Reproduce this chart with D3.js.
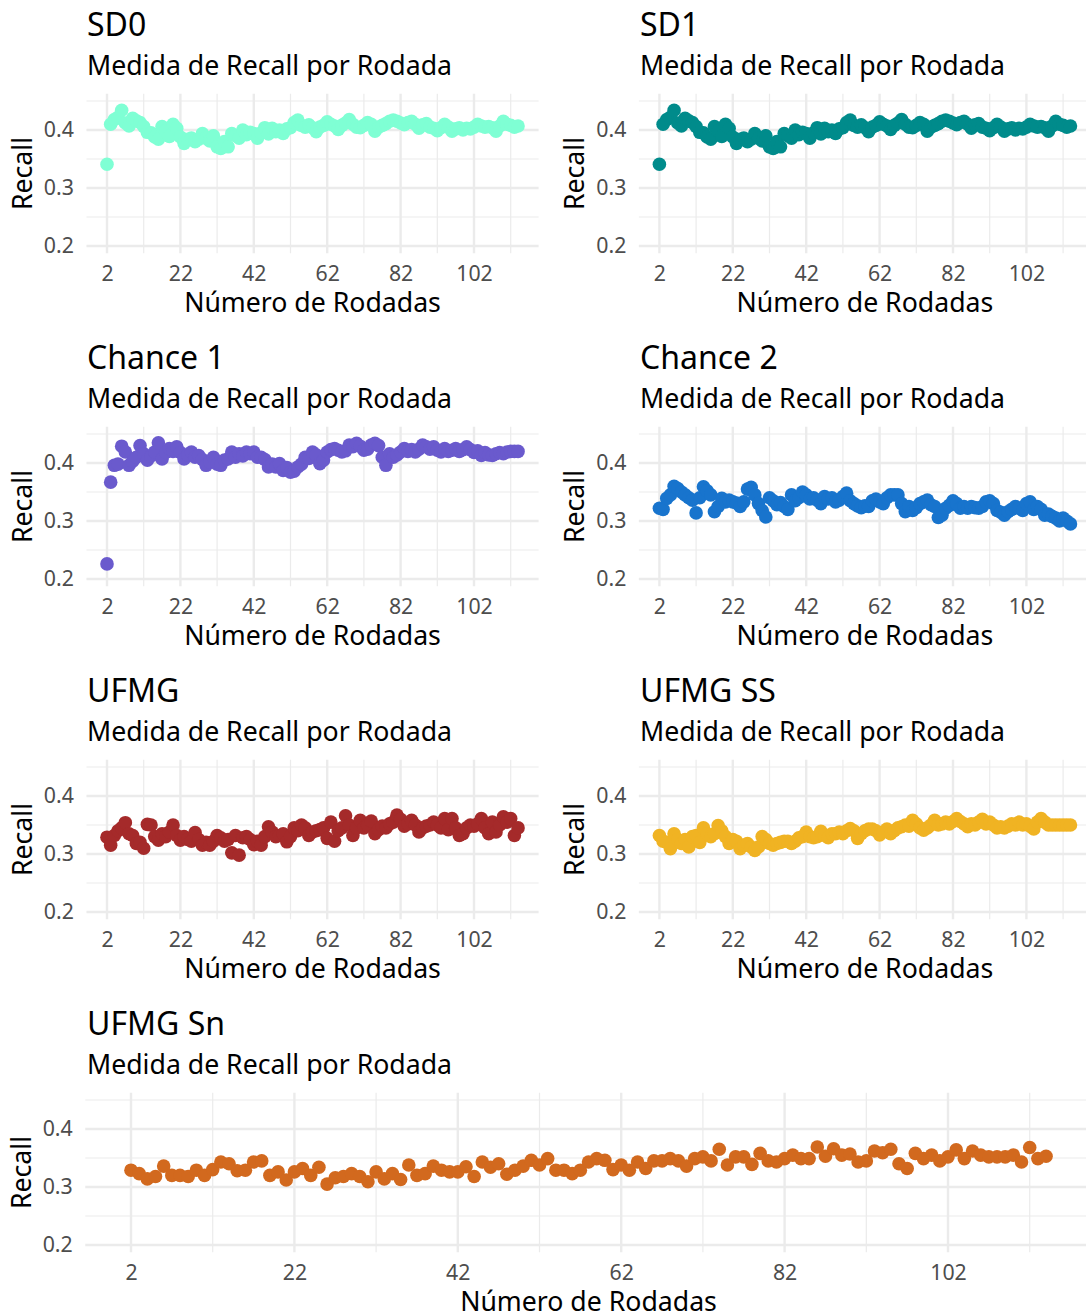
<!DOCTYPE html>
<html>
<head>
<meta charset="utf-8">
<script src="https://cdn.jsdelivr.net/npm/d3@7"></script>
<style>
  body { margin: 0; background: #ffffff; }
  svg { display: block; overflow: hidden; }
  text { font-family: "Noto Sans", "Open Sans", sans-serif; }
</style>
</head>
<body>
<svg id="chart" width="1086" height="1316"></svg>
<script>
// Rounds 2..114
const rounds = d3.range(2, 115);

const recallSD0 = [
  0.341, 0.410, 0.418, 0.422, 0.434, 0.412, 0.407, 0.420, 0.416, 0.413,
  0.406, 0.396, 0.395, 0.388, 0.384, 0.406, 0.398, 0.389, 0.410, 0.403,
  0.388, 0.377, 0.384, 0.386, 0.380, 0.384, 0.394, 0.386, 0.381, 0.390,
  0.371, 0.368, 0.380, 0.371, 0.394, 0.390, 0.386, 0.400, 0.392, 0.396,
  0.394, 0.386, 0.395, 0.404, 0.393, 0.403, 0.397, 0.400, 0.394, 0.402,
  0.404, 0.413, 0.417, 0.408, 0.405, 0.409, 0.404, 0.397, 0.405, 0.408,
  0.414, 0.410, 0.407, 0.401, 0.408, 0.412, 0.418, 0.410, 0.405, 0.404,
  0.408, 0.413, 0.410, 0.398, 0.405, 0.408, 0.411, 0.415, 0.417, 0.415,
  0.412, 0.409, 0.413, 0.415, 0.410, 0.403, 0.409, 0.411, 0.405, 0.403,
  0.399, 0.404, 0.410, 0.405, 0.398, 0.402, 0.404, 0.400, 0.403, 0.402,
  0.405, 0.410, 0.407, 0.405, 0.406, 0.404, 0.398, 0.407, 0.415, 0.410,
  0.408, 0.405, 0.407
];

const recallSD1 = [
  0.341, 0.410, 0.418, 0.422, 0.434, 0.412, 0.407, 0.420, 0.416, 0.413,
  0.406, 0.396, 0.395, 0.388, 0.384, 0.406, 0.398, 0.389, 0.410, 0.403,
  0.388, 0.377, 0.384, 0.386, 0.380, 0.384, 0.394, 0.386, 0.381, 0.390,
  0.371, 0.368, 0.380, 0.371, 0.394, 0.390, 0.386, 0.400, 0.392, 0.396,
  0.394, 0.386, 0.395, 0.404, 0.393, 0.403, 0.397, 0.400, 0.394, 0.402,
  0.404, 0.413, 0.417, 0.408, 0.405, 0.409, 0.404, 0.397, 0.405, 0.408,
  0.414, 0.410, 0.407, 0.401, 0.408, 0.412, 0.418, 0.410, 0.405, 0.404,
  0.408, 0.413, 0.410, 0.398, 0.405, 0.408, 0.411, 0.415, 0.417, 0.415,
  0.412, 0.409, 0.413, 0.415, 0.410, 0.403, 0.409, 0.411, 0.405, 0.403,
  0.399, 0.404, 0.410, 0.405, 0.398, 0.402, 0.404, 0.400, 0.403, 0.402,
  0.405, 0.410, 0.407, 0.405, 0.406, 0.404, 0.398, 0.407, 0.415, 0.410,
  0.408, 0.405, 0.407
];

const recallChance1 = [
  0.226, 0.367, 0.396, 0.398, 0.429, 0.419, 0.396, 0.403, 0.410, 0.430,
  0.416, 0.405, 0.412, 0.419, 0.435, 0.407, 0.418, 0.425, 0.420, 0.428,
  0.418, 0.407, 0.414, 0.419, 0.410, 0.413, 0.406, 0.396, 0.402, 0.410,
  0.398, 0.396, 0.405, 0.407, 0.419, 0.410, 0.416, 0.412, 0.419, 0.416,
  0.419, 0.410, 0.410, 0.406, 0.393, 0.398, 0.393, 0.399, 0.387, 0.392,
  0.384, 0.386, 0.393, 0.398, 0.410, 0.408, 0.419, 0.414, 0.399, 0.405,
  0.419, 0.423, 0.425, 0.422, 0.419, 0.421, 0.431, 0.428, 0.434, 0.429,
  0.422, 0.424, 0.431, 0.434, 0.430, 0.410, 0.396, 0.416, 0.410, 0.414,
  0.419, 0.425, 0.420, 0.423, 0.419, 0.424, 0.431, 0.428, 0.424, 0.428,
  0.422, 0.419, 0.425, 0.420, 0.422, 0.425, 0.420, 0.423, 0.428, 0.423,
  0.418, 0.421, 0.413, 0.418, 0.414, 0.413, 0.416, 0.418, 0.416, 0.419,
  0.420, 0.420, 0.420
];

const recallChance2 = [
  0.322, 0.320, 0.339, 0.345, 0.360, 0.356, 0.350, 0.345, 0.340, 0.336,
  0.314, 0.340, 0.359, 0.352, 0.345, 0.316, 0.325, 0.339, 0.333, 0.336,
  0.333, 0.331, 0.325, 0.333, 0.355, 0.358, 0.345, 0.330, 0.318, 0.307,
  0.340, 0.335, 0.328, 0.332, 0.325, 0.320, 0.345, 0.335, 0.340, 0.350,
  0.345, 0.338, 0.340, 0.336, 0.330, 0.342, 0.338, 0.340, 0.333, 0.336,
  0.342, 0.348, 0.335, 0.330, 0.326, 0.323, 0.326, 0.325, 0.335, 0.338,
  0.333, 0.330, 0.340, 0.345, 0.345, 0.345, 0.330, 0.316, 0.325, 0.318,
  0.323, 0.330, 0.333, 0.336, 0.328, 0.325, 0.306, 0.310, 0.322, 0.327,
  0.335, 0.330, 0.322, 0.325, 0.322, 0.325, 0.323, 0.322, 0.325, 0.333,
  0.335, 0.330, 0.318, 0.315, 0.310, 0.316, 0.320, 0.325, 0.322, 0.318,
  0.330, 0.333, 0.320, 0.325, 0.320, 0.310, 0.312, 0.308, 0.305, 0.300,
  0.305, 0.300, 0.295
];

const recallUFMG = [
  0.329, 0.315, 0.332, 0.340, 0.345, 0.354, 0.335, 0.332, 0.318, 0.320,
  0.310, 0.351, 0.350, 0.330, 0.324, 0.335, 0.330, 0.338, 0.350, 0.332,
  0.324, 0.330, 0.325, 0.322, 0.337, 0.325, 0.315, 0.320, 0.315, 0.322,
  0.332, 0.328, 0.322, 0.325, 0.302, 0.332, 0.298, 0.328, 0.330, 0.325,
  0.316, 0.322, 0.315, 0.330, 0.347, 0.338, 0.330, 0.332, 0.335, 0.321,
  0.330, 0.345, 0.340, 0.350, 0.345, 0.332, 0.338, 0.340, 0.342, 0.345,
  0.327, 0.355, 0.322, 0.340, 0.345, 0.366, 0.350, 0.332, 0.345, 0.358,
  0.345, 0.350, 0.357, 0.335, 0.342, 0.348, 0.345, 0.352, 0.355, 0.367,
  0.360, 0.348, 0.352, 0.358, 0.350, 0.338, 0.345, 0.348, 0.350, 0.355,
  0.350, 0.345, 0.361, 0.342, 0.361, 0.345, 0.332, 0.335, 0.345, 0.350,
  0.348, 0.352, 0.361, 0.345, 0.335, 0.355, 0.338, 0.350, 0.364, 0.355,
  0.361, 0.332, 0.345
];

const recallUFMGSS = [
  0.332, 0.322, 0.320, 0.309, 0.335, 0.325, 0.318, 0.325, 0.312, 0.330,
  0.332, 0.320, 0.345, 0.335, 0.330, 0.335, 0.349, 0.340, 0.330, 0.318,
  0.325, 0.322, 0.309, 0.315, 0.318, 0.312, 0.306, 0.312, 0.330, 0.325,
  0.318, 0.315, 0.318, 0.320, 0.322, 0.322, 0.318, 0.322, 0.328, 0.330,
  0.338, 0.330, 0.328, 0.330, 0.339, 0.332, 0.328, 0.335, 0.335, 0.338,
  0.335, 0.340, 0.344, 0.340, 0.327, 0.335, 0.340, 0.343, 0.343, 0.340,
  0.333, 0.338, 0.343, 0.335, 0.340, 0.345, 0.347, 0.350, 0.348, 0.358,
  0.352, 0.345, 0.341, 0.345, 0.350, 0.358, 0.350, 0.352, 0.355, 0.352,
  0.356, 0.361, 0.356, 0.352, 0.347, 0.352, 0.350, 0.355, 0.360, 0.352,
  0.355, 0.350, 0.345, 0.347, 0.345, 0.348, 0.352, 0.350, 0.355, 0.350,
  0.352, 0.348, 0.343, 0.355, 0.361, 0.355, 0.350, 0.350, 0.350, 0.350,
  0.350, 0.350, 0.350
];

const recallUFMGSn = [
  0.329, 0.323, 0.314, 0.318, 0.336, 0.320, 0.320, 0.318, 0.329, 0.320,
  0.330, 0.343, 0.340, 0.328, 0.329, 0.343, 0.345, 0.320, 0.326, 0.312,
  0.326, 0.332, 0.320, 0.334, 0.305, 0.316, 0.318, 0.323, 0.318, 0.309,
  0.326, 0.314, 0.323, 0.313, 0.338, 0.320, 0.323, 0.336, 0.329, 0.326,
  0.326, 0.335, 0.318, 0.343, 0.334, 0.340, 0.322, 0.329, 0.336, 0.346,
  0.338, 0.349, 0.329, 0.329, 0.323, 0.329, 0.343, 0.349, 0.346, 0.330,
  0.338, 0.329, 0.343, 0.332, 0.345, 0.345, 0.349, 0.345, 0.336, 0.349,
  0.352, 0.345, 0.365, 0.338, 0.352, 0.352, 0.339, 0.358, 0.345, 0.343,
  0.349, 0.355, 0.349, 0.349, 0.369, 0.353, 0.366, 0.355, 0.357, 0.343,
  0.345, 0.362, 0.359, 0.365, 0.340, 0.332, 0.358, 0.349, 0.355, 0.345,
  0.352, 0.364, 0.349, 0.362, 0.355, 0.352, 0.352, 0.352, 0.355, 0.343,
  0.368, 0.349, 0.353
];

const panelTitles = ["SD0", "SD1", "Chance 1", "Chance 2", "UFMG", "UFMG SS", "UFMG Sn"];
const panelSeries = [recallSD0, recallSD1, recallChance1, recallChance2, recallUFMG, recallUFMGSS, recallUFMGSn];
const panelColors = ["#7FFFD4", "#008B8B", "#6A5ACD", "#1874CD", "#A52A2A", "#F0B323", "#D2691E"];

const subtitle = "Medida de Recall por Rodada";
const xLabel = "Número de Rodadas";
const yLabel = "Recall";

const xTicks = [2, 22, 42, 62, 82, 102];
const xMinor = [12, 32, 52, 72, 92, 112];
const yTicks = [0.2, 0.3, 0.4];
const yMinor = [0.25, 0.35, 0.45];
const yLimits = [0.2, 0.45];

// Layout of the 4x2 grid (last panel spans both columns)
const rowStep = 333;
const panelTop0 = 93.75, panelBottom0 = 253.25;
const cols = [
  { x0: 86.45, x1: 538.6, textX: 87 },
  { x0: 638.85, x1: 1091, textX: 640 },
  { x0: 85.25, x1: 1091.8, textX: 87 }
];

const svg = d3.select("#chart");
const font = '"Noto Sans", "Open Sans", sans-serif';
const gridColor = "#EBEBEB";

panelTitles.forEach((title, i) => {
  const row = Math.floor(i / 2);
  const col = i === 6 ? cols[2] : cols[i % 2];
  const top = panelTop0 + row * rowStep;
  const bottom = panelBottom0 + row * rowStep;
  const values = panelSeries[i];

  const xExt = d3.extent(rounds);
  const xPad = (xExt[1] - xExt[0]) * 0.05;
  const yPad = (yLimits[1] - yLimits[0]) * 0.05;
  const x = d3.scaleLinear().domain([xExt[0] - xPad, xExt[1] + xPad]).range([col.x0, col.x1]);
  const y = d3.scaleLinear().domain([yLimits[0] - yPad, yLimits[1] + yPad]).range([bottom, top]);

  const g = svg.append("g");

  // minor grid
  g.selectAll("line.xminor").data(xMinor).join("line")
    .attr("x1", d => x(d)).attr("x2", d => x(d)).attr("y1", top).attr("y2", bottom)
    .attr("stroke", gridColor).attr("stroke-width", 1.2);
  g.selectAll("line.yminor").data(yMinor).join("line")
    .attr("x1", col.x0).attr("x2", col.x1).attr("y1", d => y(d)).attr("y2", d => y(d))
    .attr("stroke", gridColor).attr("stroke-width", 1.2);
  // major grid
  g.selectAll("line.xmajor").data(xTicks).join("line")
    .attr("x1", d => x(d)).attr("x2", d => x(d)).attr("y1", top).attr("y2", bottom)
    .attr("stroke", gridColor).attr("stroke-width", 2.4);
  g.selectAll("line.ymajor").data(yTicks).join("line")
    .attr("x1", col.x0).attr("x2", col.x1).attr("y1", d => y(d)).attr("y2", d => y(d))
    .attr("stroke", gridColor).attr("stroke-width", 2.4);

  // points
  g.selectAll("circle").data(rounds.map((r, k) => [r, values[k]])).join("circle")
    .attr("cx", d => x(d[0])).attr("cy", d => y(d[1])).attr("r", 6.8)
    .attr("fill", panelColors[i]);

  // axes
  const xAxis = g.append("g").attr("transform", `translate(0,${bottom})`)
    .call(d3.axisBottom(x).tickValues(xTicks).tickSize(0).tickPadding(13).tickFormat(d3.format("d")));
  xAxis.select(".domain").remove();
  xAxis.selectAll("text").attr("fill", "#4D4D4D").style("font-size", "21.3px").style("font-family", font);

  const yAxis = g.append("g").attr("transform", `translate(${col.x0},0)`)
    .call(d3.axisLeft(y).tickValues(yTicks).tickSize(0).tickPadding(12.5).tickFormat(d3.format(".1f")));
  yAxis.select(".domain").remove();
  yAxis.selectAll("text").attr("fill", "#4D4D4D").style("font-size", "21.3px").style("font-family", font);

  // titles
  g.append("text").attr("x", col.textX).attr("y", 35.5 + row * rowStep)
    .attr("fill", "#000").style("font-size", "32px").text(title);
  g.append("text").attr("x", col.textX).attr("y", 74.5 + row * rowStep)
    .attr("fill", "#000").style("font-size", "26.67px").text(subtitle);

  g.append("text").attr("x", (col.x0 + col.x1) / 2).attr("y", bottom + 59)
    .attr("text-anchor", "middle").attr("fill", "#000").style("font-size", "26.67px").text(xLabel);

  g.append("text").attr("transform", `translate(${col.x0 - 54.5},${(top + bottom) / 2}) rotate(-90)`)
    .attr("text-anchor", "middle").attr("fill", "#000").style("font-size", "26.67px").text(yLabel);
});
</script>
</body>
</html>
